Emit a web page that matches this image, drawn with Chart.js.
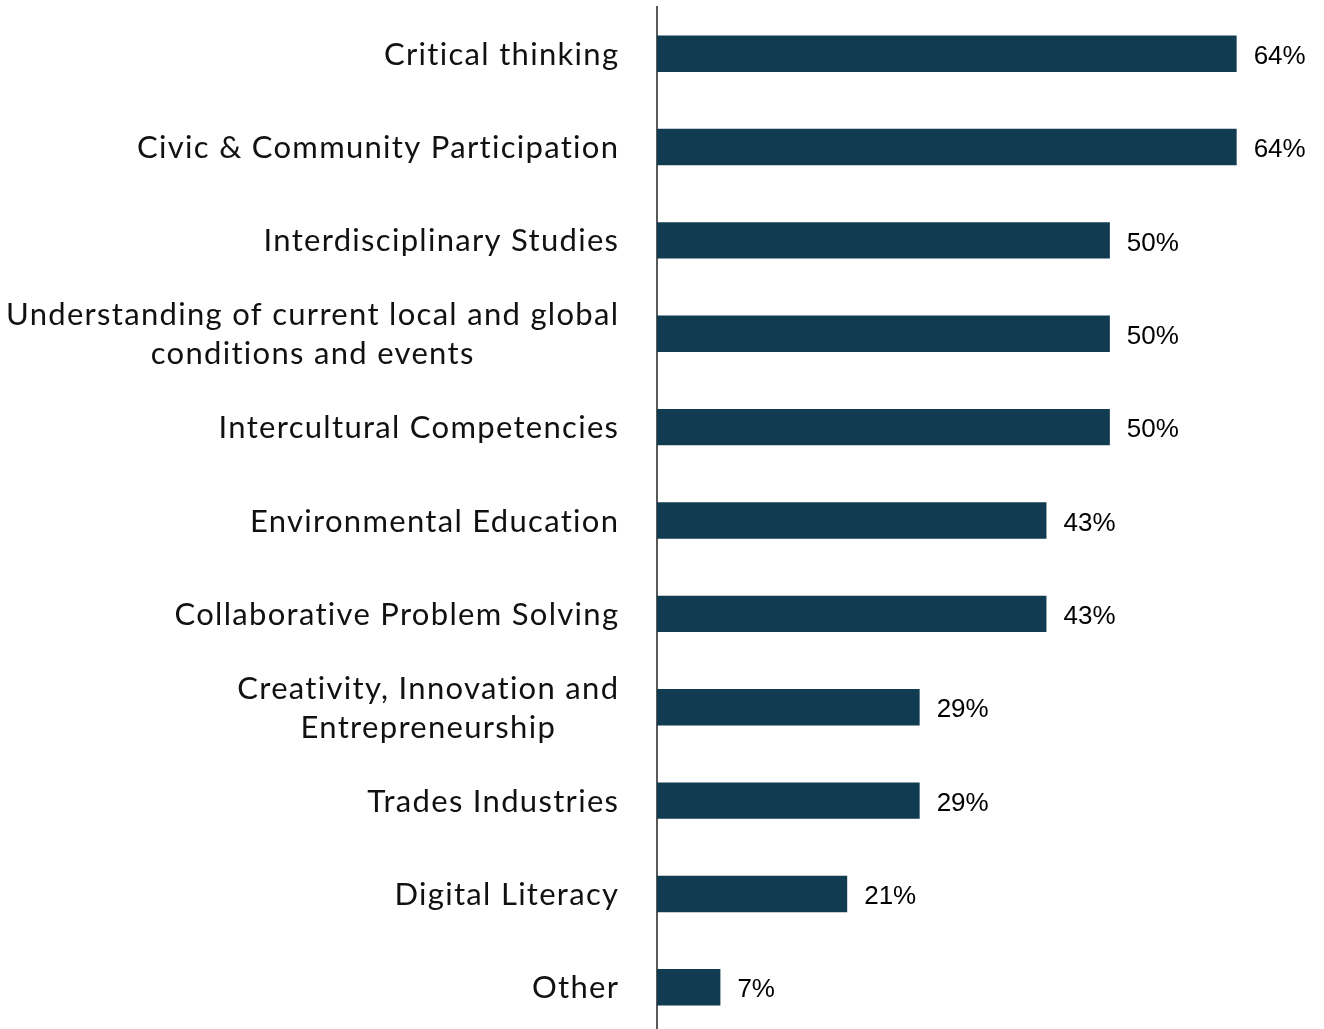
<!DOCTYPE html>
<html>
<head>
<meta charset="utf-8">
<script src="https://cdn.jsdelivr.net/npm/chart.js@4/dist/chart.umd.min.js"></script>
<style>
  html, body { margin: 0; padding: 0; background: #ffffff; overflow: hidden; }
  #wrap { position: relative; width: 1324px; height: 1034px; }
</style>
</head>
<body>
<div id="wrap"><canvas id="chart"></canvas></div>
<script>
// Share of respondents selecting each area (percent)
const categories = [
  ['Critical thinking'],
  ['Civic & Community Participation'],
  ['Interdisciplinary Studies'],
  ['Understanding of current local and global', 'conditions and events'],
  ['Intercultural Competencies'],
  ['Environmental Education'],
  ['Collaborative Problem Solving'],
  ['Creativity, Innovation and', 'Entrepreneurship'],
  ['Trades Industries'],
  ['Digital Literacy'],
  ['Other']
];
const shares = [64, 64, 50, 50, 50, 43, 43, 29, 29, 21, 7];
const valueLabels = ['64%', '64%', '50%', '50%', '50%', '43%', '43%', '29%', '29%', '21%', '7%'];

const BAR_COLOR = '#113b50';
const LABEL_FONT = '31px Lato, "Noto Sans", sans-serif';
const LABEL_SPACING = 1.3;
const VALUE_FONT = '26px "Liberation Sans", Arial, sans-serif';

// Category names: right-aligned block, wrapped lines centred within the block
const categoryLabels = {
  id: 'categoryLabels',
  afterDraw(chart) {
    const { ctx, scales: { y } } = chart;
    const right = 618 + LABEL_SPACING;
    const lineH = 39;
    ctx.save();
    ctx.font = LABEL_FONT;
    ctx.letterSpacing = LABEL_SPACING + 'px';
    ctx.fillStyle = '#111111';
    ctx.textBaseline = 'middle';
    ctx.textAlign = 'left';
    categories.forEach((lines, i) => {
      const cy = y.getPixelForValue(i) + 1;
      const widths = lines.map(l => ctx.measureText(l).width);
      const block = Math.max(...widths);
      const cx = right - block / 2;
      lines.forEach((l, k) => {
        const ly = cy + (k - (lines.length - 1) / 2) * lineH;
        ctx.fillText(l, cx - widths[k] / 2, ly);
      });
    });
    ctx.restore();
  }
};

// Percent labels at the end of each bar
const valueTags = {
  id: 'valueTags',
  afterDatasetsDraw(chart) {
    const { ctx } = chart;
    const meta = chart.getDatasetMeta(0);
    ctx.save();
    ctx.font = VALUE_FONT;
    ctx.fillStyle = '#000000';
    ctx.textAlign = 'left';
    ctx.textBaseline = 'middle';
    meta.data.forEach((bar, i) => {
      ctx.fillText(valueLabels[i], bar.x + 17, bar.y + 3);
    });
    ctx.restore();
  }
};

new Chart(document.getElementById('chart'), {
  type: 'bar',
  data: {
    labels: categories.map(c => c.join(' ')),
    datasets: [{
      data: shares,
      backgroundColor: BAR_COLOR,
      borderWidth: 0,
      categoryPercentage: 1,
      barPercentage: 0.39
    }]
  },
  options: {
    indexAxis: 'y',
    responsive: true,
    maintainAspectRatio: false,
    animation: false,
    layout: { padding: { top: 7, right: 33, bottom: 0, left: 0 } },
    plugins: {
      legend: { display: false },
      tooltip: { enabled: false }
    },
    scales: {
      x: {
        display: false,
        min: 0,
        max: 70
      },
      y: {
        grid: { display: false },
        ticks: { display: false },
        border: { display: true, color: '#595959', width: 2 },
        afterFit(scale) { scale.width = 657; }
      }
    }
  },
  plugins: [categoryLabels, valueTags]
});
</script>
</body>
</html>
